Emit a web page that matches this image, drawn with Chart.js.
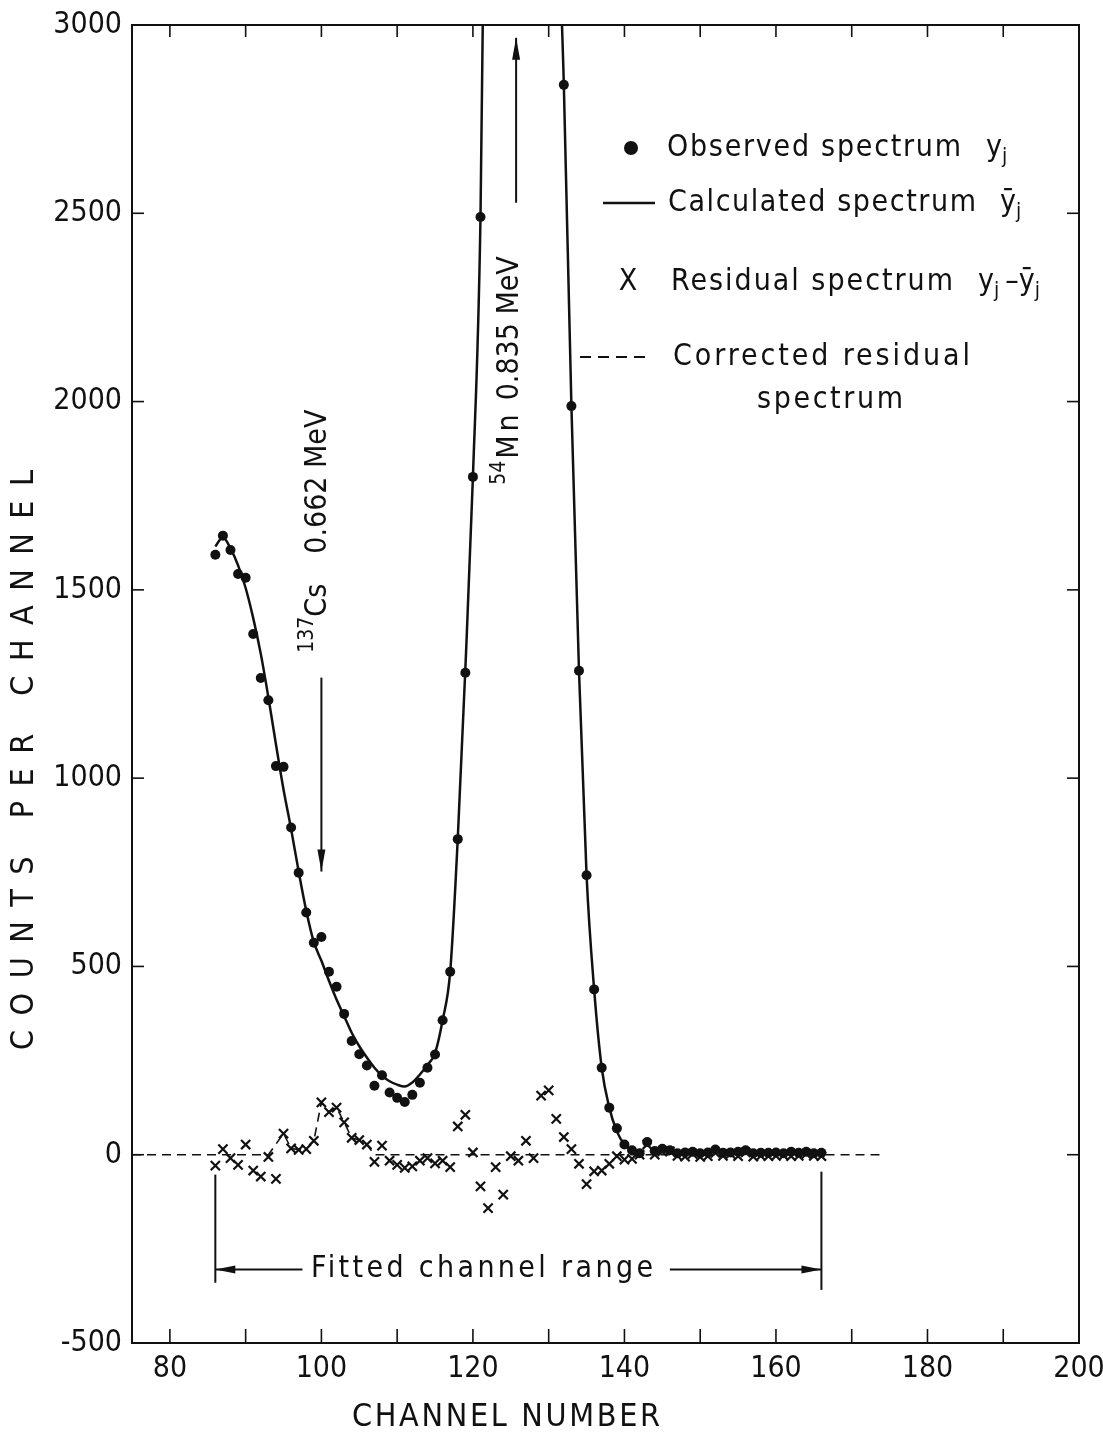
<!DOCTYPE html>
<html lang="en">
<head>
    <meta charset="UTF-8">
    <title>Spectrum fit - 137Cs / 54Mn</title>
    <script src="https://cdn.jsdelivr.net/npm/chart.js"></script>
    <style>
        html, body { margin: 0; padding: 0; background: #fff; }
        .chart-wrap { width: 1103px; height: 1434px; position: relative; }
    </style>
</head>
<body>
    <div class="chart-wrap"><canvas id="spectrumChart"></canvas></div>
    <script>
        // values
        const obsChannels = [86, 87, 88, 89, 90, 91, 92, 93, 94, 95, 96, 97, 98, 99, 100, 101, 102, 103, 104, 105,
            106, 107, 108, 109, 110, 111, 112, 113, 114, 115, 116, 117, 118, 119, 120, 121,
            132, 133, 134, 135, 136, 137, 138, 139, 140, 141, 142, 143, 144, 145, 146, 147, 148, 149, 150,
            151, 152, 153, 154, 155, 156, 157, 158, 159, 160, 161, 162, 163, 164, 165, 166];
        const obsCounts = [1593, 1644, 1606, 1542, 1532, 1383, 1266, 1207, 1032, 1030, 869, 749, 643, 563, 578, 486, 446, 374, 302, 267,
            237, 183, 211, 165, 151, 140, 159, 191, 231, 266, 357, 486, 838, 1280, 1800, 2490,
            2841, 1988, 1285, 742, 439, 231, 125, 70, 27, 12, 4, 34, 10, 16, 12, 4, 6, 8, 4,
            6, 14, 5, 6, 8, 12, 4, 5, 5, 6, 4, 8, 5, 8, 4, 5];

        const calcChannels = [86, 87, 88, 89, 90, 91, 92, 93, 94, 95, 96, 97, 98, 99, 100, 101, 102, 103, 104, 105,
            106, 107, 108, 109, 110, 111, 112, 113, 114, 115, 116, 117, 118, 119, 120, 121, 122, 123, 124, 125,
            126, 127, 128, 129, 130, 131, 132, 133, 134, 135, 136, 137, 138, 139, 140, 141, 142];
        const calcCounts = [1615, 1640, 1610, 1565, 1505, 1425, 1330, 1215, 1090, 970, 865, 752, 648, 565, 515, 462, 412, 368, 324, 288,
            258, 231, 210, 195, 186, 181, 192, 213, 238, 270, 357, 486, 840, 1290, 1800, 2490, 4200, 6500, 8800, 10300,
            10800, 10000, 8400, 6600, 4800, 3500, 2841, 1988, 1285, 742, 439, 231, 125, 62, 27, 10, 3];

        const resChannels = [86, 87, 88, 89, 90, 91, 92, 93, 94, 95, 96, 97, 98, 99, 100, 101, 102, 103, 104, 105,
            106, 107, 108, 109, 110, 111, 112, 113, 114, 115, 116, 117, 118, 119, 120, 121, 122, 123, 124, 125,
            126, 127, 128, 129, 130, 131, 132, 133, 134, 135, 136, 137, 138, 139, 140, 141, 142, 143, 144, 145,
            146, 147, 148, 149, 150, 151, 152, 153, 154, 155, 156, 157, 158, 159, 160, 161, 162, 163, 164, 165, 166];
        const resCounts = [-29, 15, -9, -27, 27, -42, -58, -6, -64, 56, 17, 13, 15, 37, 139, 113, 125, 86, 45, 39,
            27, -19, 24, -16, -27, -35, -31, -16, -9, -23, -16, -33, 75, 106, 6, -84, -142, -33, -106, -4,
            -16, 37, -9, 157, 171, 95, 47, 15, -24, -78, -44, -42, -24, -4, -13, -11, 0, 27, 0, 9,
            9, -3, -5, 2, -6, -4, 5, -3, 2, -4, 6, -5, -3, -4, -3, -2, -4, -3, 2, -3, -4];

        const corrChannels = [75, 93, 95, 96, 97, 98, 99, 100, 101, 102, 103, 104, 105, 106, 107, 174];
        const corrCounts = [0, 0, 56, 17, 13, 15, 37, 139, 113, 125, 86, 45, 39, 27, 0, 0];

        const xTickValues = [80, 90, 100, 110, 120, 130, 140, 150, 160, 170, 180, 190, 200];
        const xLabelValues = [80, 100, 120, 140, 160, 180, 200];
        const yTickValues = [-500, 0, 500, 1000, 1500, 2000, 2500, 3000];

        const fitRange = [86, 166];
        const csLine = 100;     // 137Cs 0.662 MeV
        const mnLine = 125.7;   // 54Mn 0.835 MeV

        const INK = '#111';
        const FONT = '"DejaVu Sans Condensed", "DejaVu Sans", sans-serif';

        const pts = (xs, ys) => xs.map((x, i) => ({ x: x, y: ys[i] }));

        function line(ctx, x1, y1, x2, y2) {
            ctx.beginPath();
            ctx.moveTo(x1, y1);
            ctx.lineTo(x2, y2);
            ctx.stroke();
        }

        function arrow(ctx, x1, y1, x2, y2, len, wid) {
            line(ctx, x1, y1, x2, y2);
            const ang = Math.atan2(y2 - y1, x2 - x1);
            ctx.save();
            ctx.translate(x2, y2);
            ctx.rotate(ang);
            ctx.beginPath();
            ctx.moveTo(0, 0);
            ctx.lineTo(-len, -wid / 2);
            ctx.lineTo(-len, wid / 2);
            ctx.closePath();
            ctx.fill();
            ctx.restore();
        }

        // text stretched with letter spacing to a given width
        function spacedText(ctx, text, x, y, width, size, align) {
            ctx.font = size + 'px ' + FONT;
            ctx.letterSpacing = '0px';
            const w = ctx.measureText(text).width;
            const sp = Math.max(0, (width - w) / (text.length - 1));
            ctx.letterSpacing = sp + 'px';
            const realW = w + sp * (text.length - 1);
            let sx = x;
            if (align === 'center') sx = x - realW / 2;
            ctx.textAlign = 'left';
            ctx.fillText(text, sx, y);
            ctx.letterSpacing = '0px';
        }

        // pieces of text, each with own size and vertical shift
        function richText(ctx, parts, x, y) {
            let cx = x;
            parts.forEach(p => {
                ctx.font = p.size + 'px ' + FONT;
                ctx.letterSpacing = (p.ls || 0) + 'px';
                ctx.fillText(p.t, cx, y + (p.dy || 0));
                cx += ctx.measureText(p.t).width + (p.gap || 0);
            });
            ctx.letterSpacing = '0px';
        }

        const decor = {
            id: 'decor',
            afterDraw(chart) {
                const { ctx, chartArea: a, scales: { x, y } } = chart;
                ctx.save();
                ctx.strokeStyle = INK;
                ctx.fillStyle = INK;
                ctx.lineWidth = 2;
                ctx.setLineDash([]);

                // frame and inward ticks
                ctx.strokeRect(a.left, a.top, a.right - a.left, a.bottom - a.top);
                ctx.lineWidth = 1.6;
                xTickValues.forEach(v => {
                    if (v <= x.min || v >= x.max) return;
                    const px = x.getPixelForValue(v);
                    line(ctx, px, a.bottom, px, a.bottom - 14);
                    line(ctx, px, a.top, px, a.top + 12);
                });
                yTickValues.forEach(v => {
                    if (v <= y.min || v >= y.max) return;
                    const py = y.getPixelForValue(v);
                    line(ctx, a.left, py, a.left + 12, py);
                    line(ctx, a.right, py, a.right - 12, py);
                });

                // peak arrows
                ctx.lineWidth = 2;
                arrow(ctx, x.getPixelForValue(csLine), y.getPixelForValue(1267),
                    x.getPixelForValue(csLine), y.getPixelForValue(752), 22, 8);
                arrow(ctx, x.getPixelForValue(mnLine), y.getPixelForValue(2528),
                    x.getPixelForValue(mnLine), y.getPixelForValue(2966), 22, 8);

                // rotated peak labels
                ctx.textBaseline = 'middle';
                ctx.textAlign = 'left';
                ctx.save();
                ctx.translate(x.getPixelForValue(99.5) + 1, y.getPixelForValue(1333));
                ctx.rotate(-Math.PI / 2);
                richText(ctx, [
                    { t: '137', size: 21, dy: -11 },
                    { t: 'Cs', size: 30, gap: 30 },
                    { t: '0.662 MeV', size: 30 }
                ], 0, 0);
                ctx.restore();

                ctx.save();
                ctx.translate(x.getPixelForValue(124.8) + 1, y.getPixelForValue(1779));
                ctx.rotate(-Math.PI / 2);
                richText(ctx, [
                    { t: '54', size: 21, dy: -11, gap: 2 },
                    { t: 'Mn', size: 30, ls: 4, gap: 10 },
                    { t: '0.835 MeV', size: 30 }
                ], 0, 0);
                ctx.restore();

                // fitted channel range
                const fy = y.getPixelForValue(-305);
                const f1 = x.getPixelForValue(fitRange[0]);
                const f2 = x.getPixelForValue(fitRange[1]);
                ctx.lineWidth = 2;
                line(ctx, f1, y.getPixelForValue(-53), f1, y.getPixelForValue(-340));
                line(ctx, f2, y.getPixelForValue(-45), f2, y.getPixelForValue(-359));
                arrow(ctx, x.getPixelForValue(97.5), fy, f1, fy, 20, 8);
                arrow(ctx, x.getPixelForValue(146), fy, f2, fy, 20, 8);
                ctx.textBaseline = 'middle';
                spacedText(ctx, 'Fitted channel range', x.getPixelForValue(121.2), fy, 342, 30, 'center');

                // legend block
                ctx.textBaseline = 'middle';
                ctx.beginPath();
                ctx.arc(631, 148, 7, 0, Math.PI * 2);
                ctx.fill();
                spacedText(ctx, 'Observed spectrum', 667, 148, 294, 30, 'left');
                richText(ctx, [{ t: 'y', size: 30 }, { t: 'j', size: 21, dy: 10 }], 986, 148);

                ctx.lineWidth = 2.5;
                line(ctx, 603, 203, 655, 203);
                spacedText(ctx, 'Calculated spectrum', 668, 203, 308, 30, 'left');
                richText(ctx, [{ t: '\u0233', size: 30 }, { t: 'j', size: 21, dy: 10 }], 1000, 203);

                ctx.font = '30px ' + FONT;
                ctx.textAlign = 'center';
                ctx.fillText('X', 628, 282);
                ctx.textAlign = 'left';
                spacedText(ctx, 'Residual spectrum', 671, 282, 282, 30, 'left');
                richText(ctx, [{ t: 'y', size: 30 }, { t: 'j', size: 21, dy: 10, gap: 6 },
                    { t: '\u2013', size: 30 }, { t: '\u0233', size: 30 }, { t: 'j', size: 21, dy: 10 }], 978, 282);

                ctx.lineWidth = 2;
                ctx.setLineDash([11, 7]);
                line(ctx, 580, 357, 650, 357);
                ctx.setLineDash([]);
                spacedText(ctx, 'Corrected residual', 673, 357, 297, 30, 'left');
                spacedText(ctx, 'spectrum', 830, 400, 146, 30, 'center');

                // axis titles
                ctx.textBaseline = 'middle';
                spacedText(ctx, 'CHANNEL NUMBER', 506, 1418, 308, 32, 'center');
                ctx.save();
                ctx.translate(25, 760);
                ctx.rotate(-Math.PI / 2);
                spacedText(ctx, 'COUNTS PER CHANNEL', 0, 0, 580, 32, 'center');
                ctx.restore();

                ctx.restore();
            }
        };

        new Chart(document.getElementById('spectrumChart'), {
            type: 'scatter',
            data: {
                datasets: [
                    {
                        label: 'Calculated spectrum',
                        type: 'line',
                        data: pts(calcChannels, calcCounts),
                        borderColor: INK,
                        borderWidth: 2.5,
                        pointRadius: 0,
                        cubicInterpolationMode: 'monotone',
                        fill: false
                    },
                    {
                        label: 'Corrected residual spectrum',
                        type: 'line',
                        data: pts(corrChannels, corrCounts),
                        borderColor: INK,
                        borderWidth: 1.6,
                        borderDash: [9, 6],
                        pointRadius: 0,
                        tension: 0,
                        fill: false
                    },
                    {
                        label: 'Observed spectrum',
                        data: pts(obsChannels, obsCounts),
                        pointStyle: 'circle',
                        pointRadius: 5,
                        backgroundColor: INK,
                        borderColor: INK,
                        borderWidth: 0
                    },
                    {
                        label: 'Residual spectrum',
                        data: pts(resChannels, resCounts),
                        pointStyle: 'crossRot',
                        pointRadius: 6.5,
                        borderColor: INK,
                        borderWidth: 2.2
                    }
                ]
            },
            options: {
                responsive: true,
                maintainAspectRatio: false,
                animation: false,
                layout: { padding: { top: 25, right: 24, left: 0, bottom: 0 } },
                plugins: { legend: { display: false }, tooltip: { enabled: false } },
                scales: {
                    x: {
                        type: 'linear',
                        min: 75,
                        max: 200,
                        afterBuildTicks: s => { s.ticks = xTickValues.map(v => ({ value: v })); },
                        afterFit: s => { s.height = 91; s.paddingLeft = 0; s.paddingRight = 0; },
                        grid: { display: false, drawTicks: false },
                        border: { display: false },
                        ticks: {
                            padding: 8,
                            autoSkip: false,
                            maxRotation: 0,
                            color: INK,
                            font: { family: FONT, size: 30 },
                            callback: v => xLabelValues.includes(v) ? String(v) : ''
                        }
                    },
                    y: {
                        min: -500,
                        max: 3000,
                        afterBuildTicks: s => { s.ticks = yTickValues.map(v => ({ value: v })); },
                        afterFit: s => { s.width = 132; s.paddingTop = 0; s.paddingBottom = 0; },
                        grid: { display: false, drawTicks: false },
                        border: { display: false },
                        ticks: {
                            padding: 10,
                            color: INK,
                            font: { family: FONT, size: 30 },
                            callback: v => String(v)
                        }
                    }
                }
            },
            plugins: [decor]
        });
    </script>
</body>
</html>
